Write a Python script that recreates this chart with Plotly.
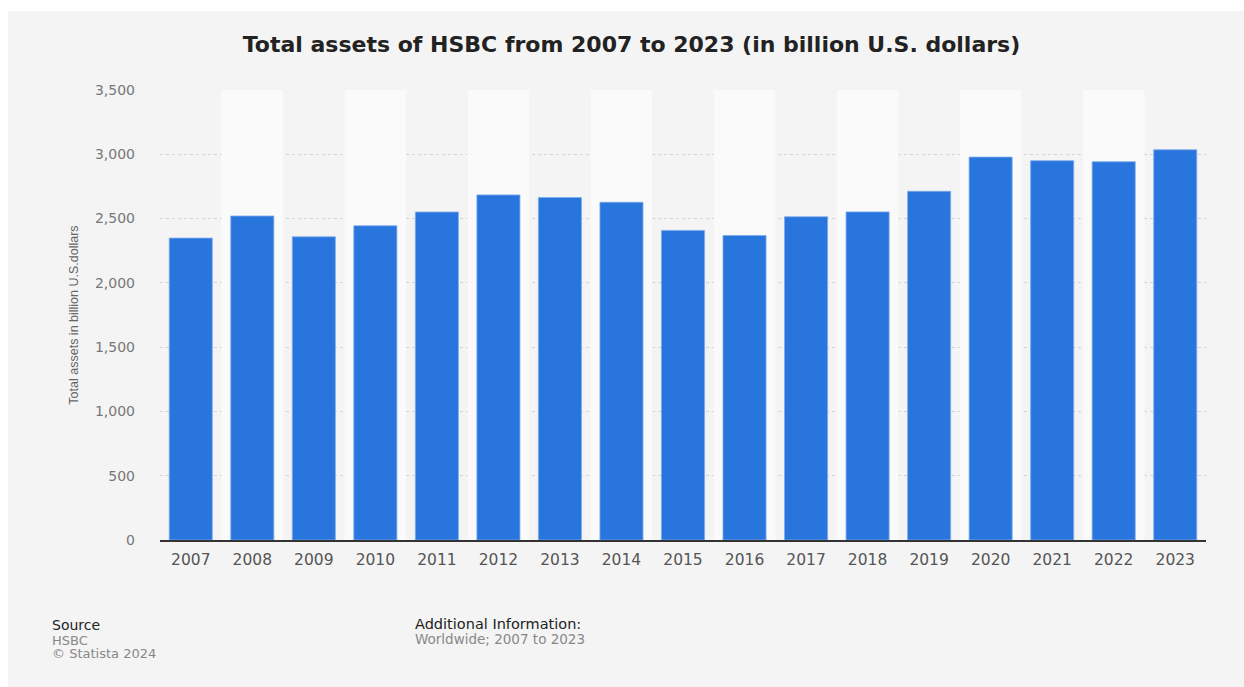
import plotly.graph_objects as go

years = ["2007", "2008", "2009", "2010", "2011", "2012", "2013", "2014", "2015",
         "2016", "2017", "2018", "2019", "2020", "2021", "2022", "2023"]
assets = [2348, 2520, 2358, 2444, 2551, 2684, 2664, 2627, 2408,
          2368, 2514, 2552, 2712, 2978, 2950, 2942, 3035]
band_top = 3500
y_ticks = [0, 500, 1000, 1500, 2000, 2500, 3000, 3500]
y_tick_labels = ["0", "500", "1,000", "1,500", "2,000", "2,500", "3,000", "3,500"]

band_vals = [band_top if i % 2 == 1 else 0 for i in range(len(years))]

WIDE = "DejaVu Sans, Liberation Sans, Arial, sans-serif"

fig = go.Figure()
fig.add_trace(go.Bar(x=years, y=band_vals, width=1, marker=dict(color="#fafafa", line=dict(width=0)),
                     hoverinfo="skip", showlegend=False))
fig.add_trace(go.Bar(x=years, y=assets, width=0.7,
                     marker=dict(color="#2876dd", line=dict(color="#7eaaeb", width=0.8)),
                     showlegend=False))

# grey panel
fig.add_shape(type="rect", xref="paper", yref="paper",
              x0=(8 - 160) / 1046, x1=(1250 - 160) / 1046,
              y0=(540 - 690) / 450, y1=(540 - 11) / 450,
              fillcolor="#f4f4f4", line=dict(width=0), layer="below")

fig.update_layout(
    width=1244, height=687,
    margin=dict(l=160, r=38, t=90, b=147),
    paper_bgcolor="white", plot_bgcolor="rgba(0,0,0,0)",
    barmode="overlay",
    font=dict(family=WIDE),
    title=dict(text="<b>Total assets of HSBC from 2007 to 2023 (in billion U.S. dollars)</b>",
               x=631.5 / 1244, xref="container", xanchor="center", y=1 - 44 / 687, yanchor="middle",
               font=dict(size=22, color="#222", family=WIDE)),
    xaxis=dict(type="category", showgrid=False, showline=True, linecolor="#333", linewidth=1.5,
               ticks="", tickfont=dict(size=15.5, color="#555", family=WIDE), ticklabelstandoff=5),
    yaxis=dict(range=[0, 3500], tickvals=y_ticks, ticktext=y_tick_labels,
               showgrid=True, gridcolor="#d4d4d4", griddash="dot", gridwidth=1,
               zeroline=False, ticks="", ticklabelstandoff=24,
               tickfont=dict(size=14, color="#777", family=WIDE),
               title=dict(text="Total assets in billion U.S.dollars", standoff=13,
                          font=dict(size=12.5, color="#666",
                                    family="Liberation Sans Narrow, Arial Narrow, Liberation Sans, sans-serif"))),
)

annos = [
    dict(text="Source", x=50, y=625, color="#222", size=14),
    dict(text="HSBC", x=50, y=640, color="#888", size=13),
    dict(text="© Statista 2024", x=50, y=653, color="#888", size=13),
    dict(text="Additional Information:", x=413, y=624, color="#222", size=14.5),
    dict(text="Worldwide; 2007 to 2023", x=413, y=639, color="#888", size=13.5),
]
for a in annos:
    fig.add_annotation(text=a["text"], xref="paper", yref="paper",
                       x=(a["x"] - 160) / 1046, y=(540 - a["y"]) / 450,
                       xanchor="left", yanchor="middle", showarrow=False,
                       font=dict(size=a["size"], color=a["color"], family=WIDE))

fig.write_html("out.html")
